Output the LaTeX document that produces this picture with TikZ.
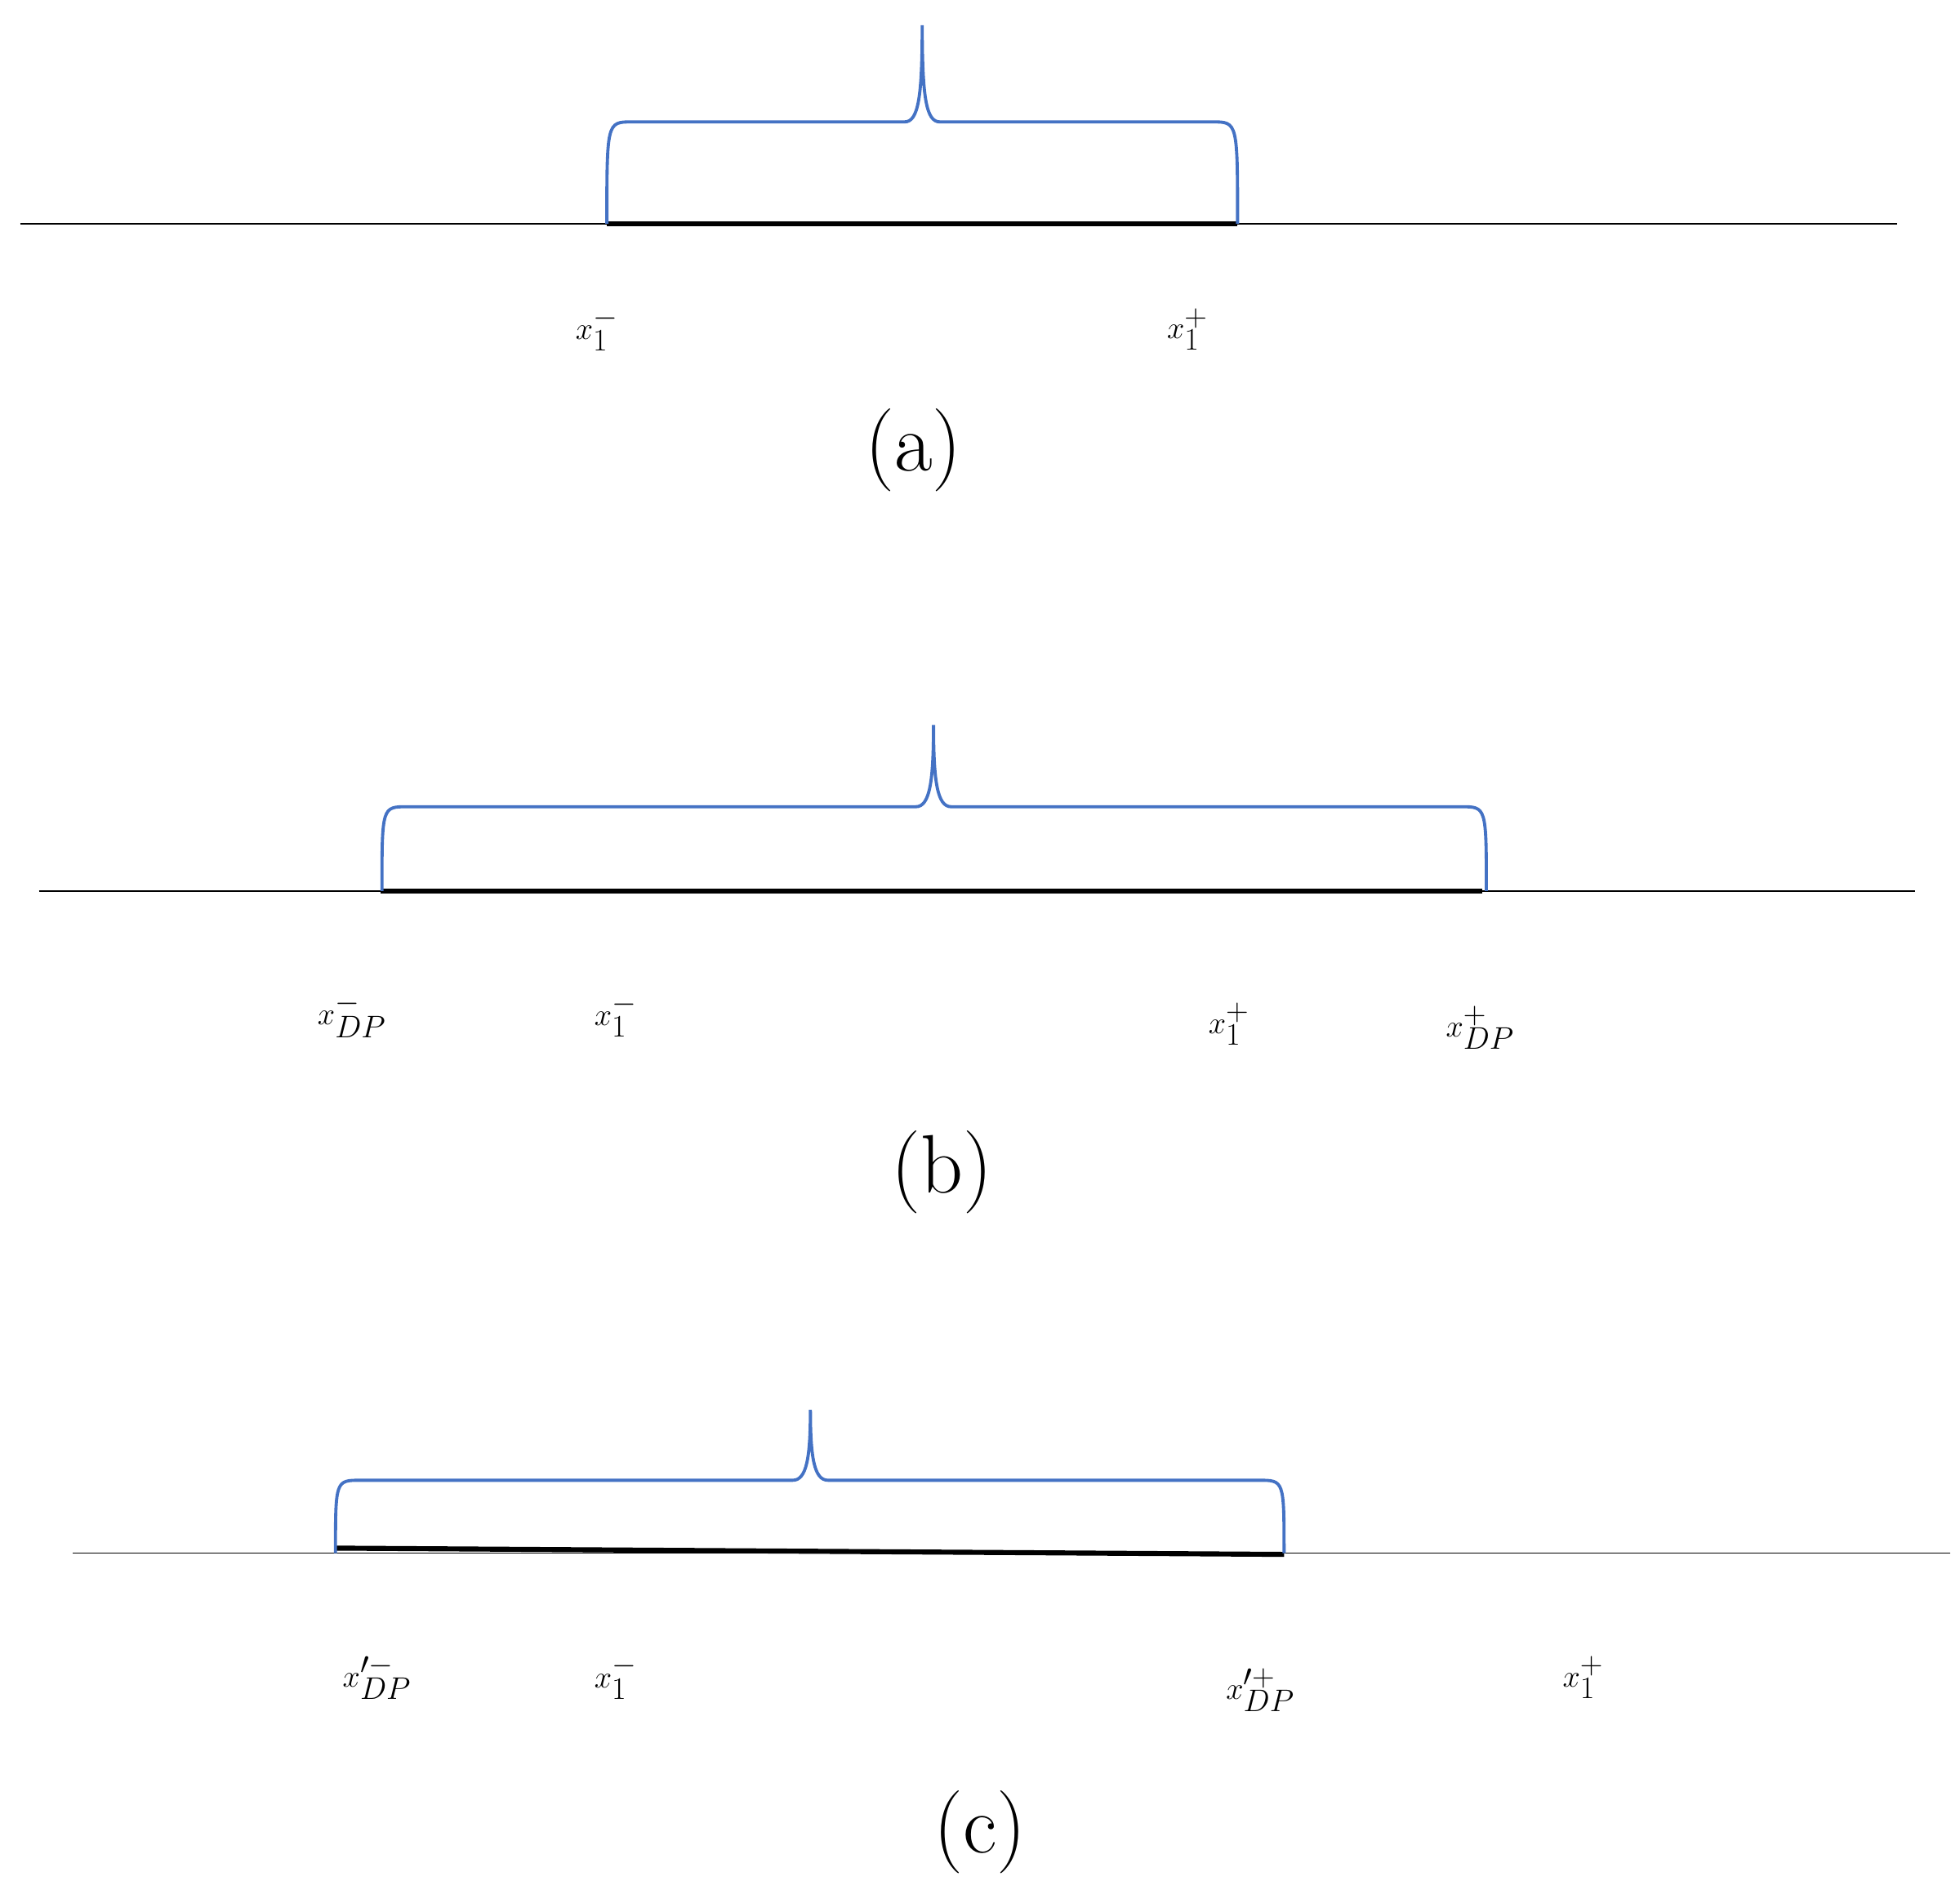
\documentclass[tikz,border=0pt]{standalone}
\begin{document}
\begin{tikzpicture}[x=1pt,y=-1pt,
  axis/.style={line width=1.2pt},
  seg/.style={line width=4pt},
  brace/.style={draw={rgb,255:red,68;green,114;blue,196},line width=2.5pt},
  lab/.style={font=\fontsize{72}{80}\selectfont},
  captext/.style={font=\fontsize{66}{72}\selectfont}]
\useasboundingbox (0,0) rectangle (1560,1504);
% (a)
\coordinate (a0) at (16,178); \coordinate (a1) at (1510,178);
\coordinate (as) at (483,178); \coordinate (ae) at (985,178);
\draw[axis] (a0) -- (a1); \draw[seg] (as) -- (ae);
\draw[brace] (483,178) .. controls (483,97) .. (503,97) -- (720,97)
   .. controls (731,97) and (734,77) .. (734,20)
   .. controls (734,77) and (737,97) .. (748,97) -- (965,97)
   .. controls (985,97) .. (985,178);
\node[lab] (la1) at (475,262) {$x_1^-$};
\node[lab] (la2) at (945,262) {$x_1^+$};
\node[captext] (ca) at (727,358) {(a)};
% (b)
\coordinate (b0) at (31,709); \coordinate (b1) at (1524,709);
\coordinate (bs) at (303,709); \coordinate (be) at (1180,709);
\draw[axis] (b0) -- (b1); \draw[seg] (bs) -- (be);
\draw[brace] (304,709) .. controls (304,642) .. (324,642) -- (729,642)
   .. controls (740,642) and (743,622) .. (743,577)
   .. controls (743,622) and (746,642) .. (757,642) -- (1163,642)
   .. controls (1183,642) .. (1183,709);
\node[lab] (lb1) at (280,808) {$x_{DP}^-$};
\node[lab] (lb2) at (490,808) {$x_1^-$};
\node[lab] (lb3) at (978,815) {$x_1^+$};
\node[lab] (lb4) at (1178,818) {$x_{DP}^+$};
\node[captext] (cb) at (750,933) {(b)};
% (c)
\coordinate (c0) at (58,1236); \coordinate (c1) at (1552,1236);
\coordinate (cs) at (266,1232); \coordinate (ce) at (1022,1237);
\draw[axis] (c0) -- (c1); \draw[seg] (cs) -- (ce);
\draw[brace] (267,1236) .. controls (267,1178) .. (287,1178) -- (631,1178)
   .. controls (642,1178) and (645,1160) .. (645,1122)
   .. controls (645,1160) and (648,1178) .. (659,1178) -- (1002,1178)
   .. controls (1022,1178) .. (1022,1236);
\node[lab] (lc1) at (300,1335) {$x_{DP}^{\prime-}$};
\node[lab] (lc2) at (490,1335) {$x_1^-$};
\node[lab] (lc3) at (1003,1345) {$x_{DP}^{\prime+}$};
\node[lab] (lc4) at (1260,1335) {$x_1^+$};
\node[captext] (cc) at (780,1458) {(c)};
\end{tikzpicture}
\end{document}
